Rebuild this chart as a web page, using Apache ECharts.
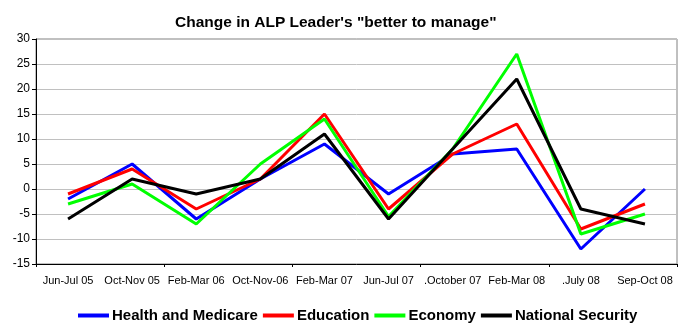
<!DOCTYPE html>
<html>
<head>
<meta charset="utf-8">
<script src="https://cdn.jsdelivr.net/npm/echarts@6/dist/echarts.min.js"></script>
<style>
html,body{margin:0;padding:0;background:#fff;}
#chart{width:686px;height:330px;}
</style>
</head>
<body>
<div id="chart"></div>
<script>
var categories = ['Jun-Jul 05','Oct-Nov 05','Feb-Mar 06','Oct-Nov-06','Feb-Mar 07','Jun-Jul 07','.October 07','Feb-Mar 08','.July 08','Sep-Oct 08'];
var healthMedicare = [-2, 5, -6, 2, 9, -1, 7, 8, -12, 0];
var education = [-1, 4, -4, 2, 15, -4, 7, 13, -8, -3];
var economy = [-3, 1, -7, 5, 14, -5.5, 8, 27, -9, -5];
var nationalSecurity = [-6, 2, -1, 2, 11, -6, 8, 22, -4, -7];
var seriesNames = ['Health and Medicare','Education','Economy','National Security'];
var seriesColors = ['#0000ff','#ff0000','#00ff00','#000000'];
var seriesData = [healthMedicare, education, economy, nationalSecurity];

var FONT = 'Arial, "Liberation Sans", sans-serif';
var chart = echarts.init(document.getElementById('chart'), null, {renderer:'canvas'});
var option = {
  animation: false,
  backgroundColor: '#ffffff',
  title: {
    text: 'Change in ALP Leader\'s "better to manage"',
    left: 170, top: 10,
    textStyle: {fontFamily: FONT, fontSize: 15.5, fontWeight: 'bold', color: '#000'}
  },
  legend: {
    bottom: 2, left: 73,
    itemWidth: 31, itemHeight: 4, itemGap: 5,
    icon: 'rect',
    textStyle: {fontFamily: FONT, fontSize: 15, fontWeight: 'bold', color: '#000', padding: [0,0,0,-2]},
    data: seriesNames
  },
  grid: {
    left: 36, right: 9, top: 39, bottom: 66,
    show: true, borderColor: '#808080', borderWidth: 1
  },
  xAxis: [
    {
      type: 'category', data: categories, position: 'bottom',
      axisLine: {show: false}, axisTick: {show: false},
      axisLabel: {fontFamily: FONT, fontSize: 11, color: '#000', margin: 11, interval: 0},
      splitLine: {show: false}
    },
    {
      type: 'category', data: categories, position: 'bottom',
      axisLine: {show: true, onZero: true, lineStyle: {color: '#000', width: 1}},
      axisTick: {show: true, inside: false, length: 3, lineStyle: {color: '#000'}},
      axisLabel: {show: false},
      splitLine: {show: false}
    }
  ],
  yAxis: {
    type: 'value', min: -15, max: 30, interval: 5,
    axisLine: {show: true, lineStyle: {color: '#000', width: 1}},
    axisTick: {show: true, length: 4, lineStyle: {color: '#000'}},
    axisLabel: {fontFamily: FONT, fontSize: 12, color: '#000', margin: 6},
    splitLine: {show: true, lineStyle: {color: '#c0c0c0', width: 1}}
  },
  series: seriesData.map(function(d, i){
    return {
      name: seriesNames[i], type: 'line', data: d, xAxisIndex: 0,
      symbol: 'none', color: seriesColors[i],
      lineStyle: {width: 3, color: seriesColors[i]}
    };
  })
};
chart.setOption(option);
</script>
</body>
</html>
